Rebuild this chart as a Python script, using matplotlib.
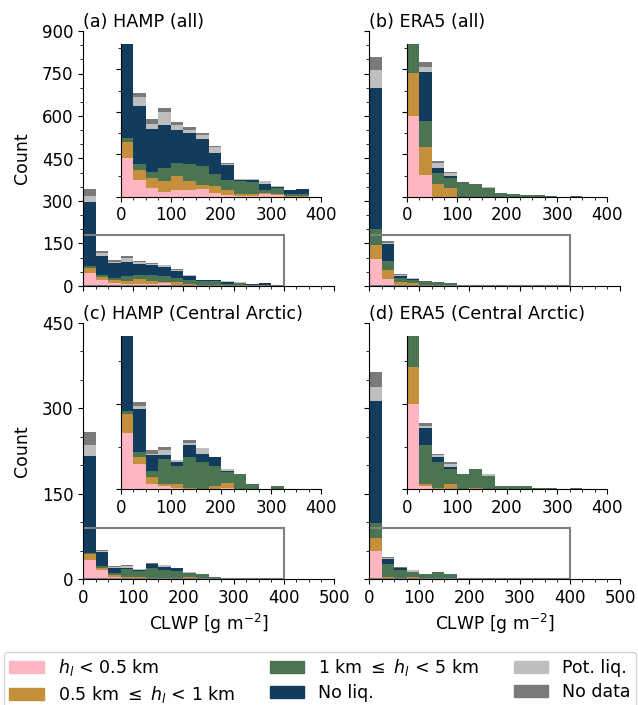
# CLWP histograms split by liquid layer height, HAMP vs ERA5

import numpy as np
import matplotlib.pyplot as plt
from matplotlib.patches import Rectangle, Patch
from matplotlib.ticker import MultipleLocator

plt.rcParams['font.size'] = 12

bin_edges = np.arange(0, 425, 25)

labels = [r'$h_l$ < 0.5 km', r'0.5 km $\leq$ $h_l$ < 1 km', r'1 km $\leq$ $h_l$ < 5 km',
          'No liq.', 'Pot. liq.', 'No data']
colors = ['#FFB6C1', '#C4903C', '#4A7452', '#113C5E', '#BEBEBE', '#7A7A7A']

# (a) HAMP (all)
pink_a = [46, 20, 10, 6, 8, 8, 9, 5, 2, 1, 1, 3, 2, 0, 0, 0]
brown_a = [18, 12, 12, 12, 17, 10, 5, 8, 6, 2, 2, 2, 1, 1, 1, 0]
green_a = [5, 7, 7, 16, 15, 20, 22, 14, 12, 16, 14, 3, 7, 2, 2, 0]
navy_a = [226, 68, 51, 50, 38, 37, 32, 25, 17, 1, 3, 7, 2, 5, 6, 0]
lgray_a = [21, 10, 6, 16, 7, 3, 5, 6, 2, 1, 1, 3, 1, 0, 0, 0]
dgray_a = [26, 5, 5, 5, 3, 4, 2, 2, 1, 0, 0, 1, 0, 0, 0, 0]

# (b) ERA5 (all)
pink_b = [95, 26, 0, 0, 0, 0, 0, 0, 0, 0, 0, 0, 0, 0, 0, 0]
brown_b = [51, 32, 15, 10, 0, 0, 0, 0, 0, 0, 0, 0, 0, 0, 0, 0]
green_b = [54, 31, 13, 12, 17, 15, 10, 4, 3, 2, 2, 1, 0, 1, 0, 0]
navy_b = [498, 58, 6, 2, 0, 0, 0, 0, 0, 0, 0, 0, 0, 0, 0, 0]
lgray_b = [64, 6, 6, 4, 0, 0, 1, 0, 0, 0, 0, 0, 0, 0, 0, 0]
dgray_b = [45, 5, 2, 1, 0, 0, 0, 0, 0, 0, 0, 0, 0, 0, 0, 0]

# (c) HAMP (Central Arctic)
pink_c = [33, 15, 3, 2, 1, 0, 0, 0, 1, 0, 0, 0, 0, 0, 0, 0]
brown_c = [11, 4, 4, 1, 2, 1, 0, 2, 3, 0, 0, 0, 0, 0, 0, 0]
green_c = [2, 3, 4, 15, 11, 18, 16, 12, 6, 9, 3, 0, 2, 0, 0, 0]
navy_c = [171, 25, 9, 2, 2, 7, 5, 5, 1, 0, 0, 0, 0, 0, 0, 0]
lgray_c = [19, 2, 1, 3, 1, 1, 3, 0, 1, 0, 0, 0, 0, 0, 0, 0]
dgray_c = [22, 2, 2, 2, 0, 2, 0, 0, 0, 0, 0, 0, 0, 0, 0, 0]

# (d) ERA5 (Central Arctic)
pink_d = [50, 2, 0, 0, 0, 0, 0, 0, 0, 0, 0, 0, 0, 0, 0, 0]
brown_d = [22, 1, 1, 3, 0, 1, 0, 0, 0, 0, 0, 0, 0, 0, 0, 0]
green_d = [27, 23, 15, 9, 9, 11, 8, 2, 2, 2, 1, 1, 0, 1, 0, 0]
navy_d = [214, 10, 3, 1, 0, 0, 0, 0, 0, 0, 0, 0, 0, 0, 0, 0]
lgray_d = [25, 1, 1, 2, 0, 0, 1, 0, 0, 0, 0, 0, 0, 0, 0, 0]
dgray_d = [26, 2, 1, 1, 0, 0, 0, 0, 0, 0, 0, 0, 0, 0, 0, 0]

panels = [
    ('(a) HAMP (all)', [pink_a, brown_a, green_a, navy_a, lgray_a, dgray_a]),
    ('(b) ERA5 (all)', [pink_b, brown_b, green_b, navy_b, lgray_b, dgray_b]),
    ('(c) HAMP (Central Arctic)', [pink_c, brown_c, green_c, navy_c, lgray_c, dgray_c]),
    ('(d) ERA5 (Central Arctic)', [pink_d, brown_d, green_d, navy_d, lgray_d, dgray_d]),
]

W, H = 638, 705
fig = plt.figure(figsize=(W / 100, H / 100), dpi=100)

# axes boxes in pixels: left, top, right, bottom
boxes = [(83, 31, 334, 286), (369, 31, 620, 286),
         (83, 323, 334, 579), (369, 323, 620, 579)]


def stack(ax, series):
    bottom = np.zeros(len(bin_edges) - 1)
    for vals, c in zip(series, colors):
        ax.bar(bin_edges[:-1], vals, width=25, align='edge', bottom=bottom,
               color=c, linewidth=0)
        bottom += np.array(vals)


for i, (title, series) in enumerate(panels):
    l, t, r, b = boxes[i]
    ax = fig.add_axes([l / W, 1 - b / H, (r - l) / W, (b - t) / H])
    top_row = i < 2
    ymax = 900 if top_row else 450
    zoom_y = 180 if top_row else 90

    stack(ax, series)
    ax.set_xlim(0, 500)
    ax.set_ylim(0, ymax)
    ax.xaxis.set_major_locator(MultipleLocator(100))
    ax.xaxis.set_minor_locator(MultipleLocator(25))
    ax.yaxis.set_major_locator(MultipleLocator(150))
    ax.yaxis.set_minor_locator(MultipleLocator(50))
    ax.spines['top'].set_visible(False)
    ax.spines['right'].set_visible(False)
    ax.set_title(title, loc='left', fontsize=12.7, pad=3)
    ax.add_patch(Rectangle((0, 0), 400, zoom_y, fill=False, edgecolor='gray', lw=1.5))

    if top_row:
        ax.set_xticklabels([])
    else:
        ax.set_xlabel(r'CLWP [g m$^{-2}$]', fontsize=12.3)
    if i % 2 == 1:
        ax.set_yticklabels([])
    else:
        ax.set_ylabel('Count', fontsize=12.5, labelpad=8)

    ins = ax.inset_axes([0.15, 0.35, 0.8, 0.6])
    stack(ins, series)
    ins.set_xlim(0, 400)
    ins.set_ylim(0, zoom_y)
    ins.xaxis.set_major_locator(MultipleLocator(100))
    ins.xaxis.set_minor_locator(MultipleLocator(25))
    ins.yaxis.set_major_locator(MultipleLocator(50))
    ins.yaxis.set_minor_locator(MultipleLocator(25))
    ins.set_yticklabels([])
    ins.spines['top'].set_visible(False)
    ins.spines['right'].set_visible(False)

handles = [Patch(color=c, label=lab) for c, lab in zip(colors, labels)]
fig.legend(handles=handles, ncol=3, loc='upper left', borderaxespad=0,
           borderpad=0.3, labelspacing=0.33,
           bbox_to_anchor=(4 / W, 1 - 652 / H), fontsize=12.5)

plt.savefig("out.png", dpi=100)
plt.close(fig)
